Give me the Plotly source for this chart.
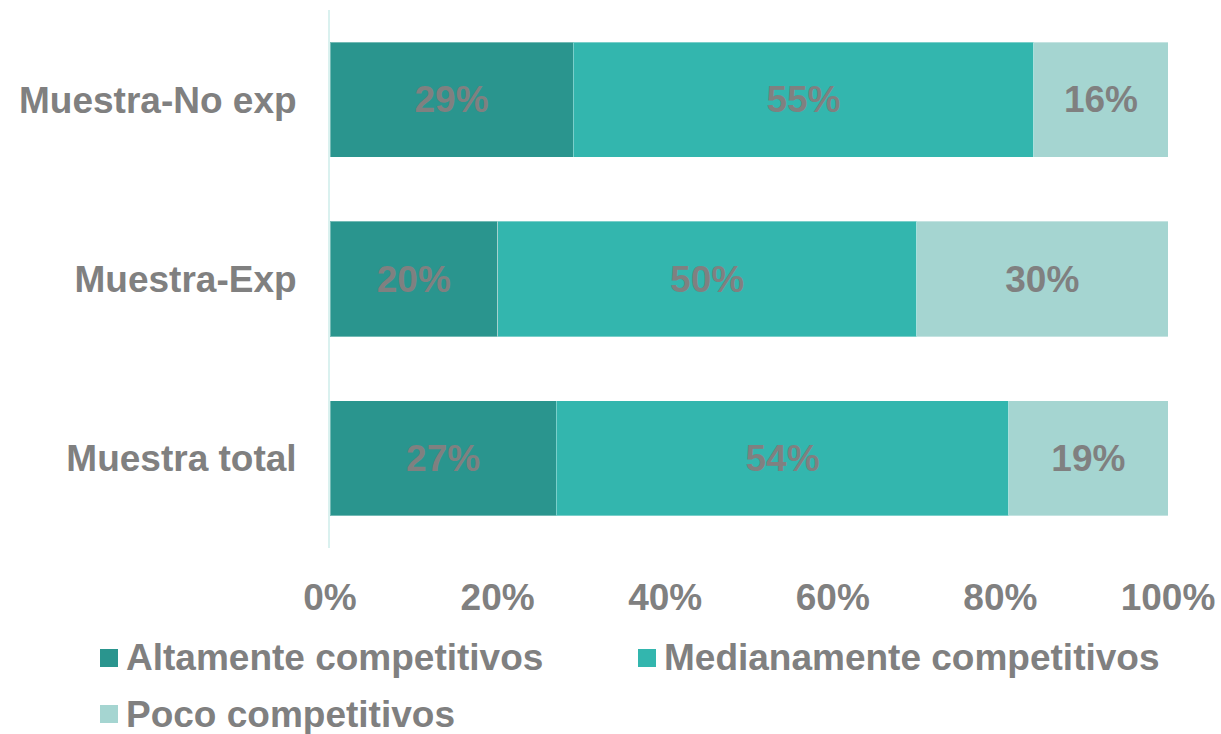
import plotly.graph_objects as go

categories = ["Muestra total", "Muestra-Exp", "Muestra-No exp"]
series_names = ["Altamente competitivos", "Medianamente competitivos", "Poco competitivos"]
altamente = [27, 20, 29]
medianamente = [54, 50, 55]
poco = [19, 30, 16]
x_ticks = [0, 20, 40, 60, 80, 100]
x_tick_labels = ["0%", "20%", "40%", "60%", "80%", "100%"]

colors = ["#2A958E", "#33B6AE", "#A5D5D1"]
gray = "#808080"
font_family = "Liberation Sans, Arial, sans-serif"
fsize = 37

W, H = 1221, 734
ML, MR, MT, MB = 330, 53, 10, 186

fig = go.Figure()
for name, values, color in zip(series_names, [altamente, medianamente, poco], colors):
    fig.add_trace(go.Bar(
        y=categories,
        x=values,
        name=name,
        orientation="h",
        marker=dict(color=color, line=dict(color="rgba(255,255,255,0.35)", width=1)),
        text=[f"{v}%" for v in values],
        textposition="inside",
        insidetextanchor="middle",
        textangle=0,
        constraintext="none",
        textfont=dict(family=font_family, size=fsize, color=gray, weight="bold"),
        hoverinfo="skip",
        showlegend=False,
    ))

# Legend drawn below the axis: colour square + label, two columns / two rows
pw, ph = W - ML - MR, H - MT - MB
def px_to_paper(x, y):
    return (x - ML) / pw, (H - MB - y) / ph

legend_items = [(100, 658), (638, 658), (100, 714)]
shapes, annotations = [], []
for (lx, ly), name, color in zip(legend_items, series_names, colors):
    x0, y0 = px_to_paper(lx, ly + 9)
    x1, y1 = px_to_paper(lx + 18, ly - 9)
    shapes.append(dict(type="rect", xref="paper", yref="paper", x0=x0, x1=x1, y0=y0, y1=y1,
                       fillcolor=color, line=dict(width=0)))
    tx, ty = px_to_paper(lx + 24, ly)
    annotations.append(dict(text=name, xref="paper", yref="paper", x=tx, y=ty,
                            xanchor="left", yanchor="middle", showarrow=False,
                            font=dict(family=font_family, size=fsize, color=gray, weight="bold")))

fig.update_layout(
    barmode="stack",
    bargap=0.357,
    width=W,
    height=H,
    margin=dict(l=ML, r=MR, t=MT, b=MB, autoexpand=False),
    paper_bgcolor="white",
    plot_bgcolor="white",
    font=dict(family=font_family, size=fsize, color=gray, weight="bold"),
    showlegend=False,
    shapes=shapes,
    annotations=annotations,
    xaxis=dict(
        range=[0, 100],
        tickvals=x_ticks,
        ticktext=x_tick_labels,
        showgrid=False,
        zeroline=False,
        showline=False,
        ticks="",
        ticklabelstandoff=24,
        tickfont=dict(size=fsize, color=gray, weight="bold"),
    ),
    yaxis=dict(
        range=[-0.5, 2.5],
        showgrid=False,
        zeroline=False,
        showline=True,
        linecolor="#DAF1EF",
        linewidth=2,
        ticks="",
        ticklabelstandoff=24,
        tickfont=dict(size=fsize, color=gray, weight="bold"),
    ),
)

fig.write_html("out.html")
